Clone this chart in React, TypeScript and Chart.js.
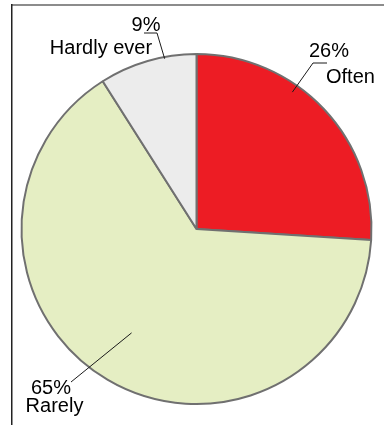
import React, { useEffect, useRef } from "react";
import { Chart, registerables } from "chart.js";

Chart.register(...registerables);

const categories = ["Often", "Rarely", "Hardly ever"];
const values = [26, 65, 9];
const percentLabels = ["26%", "65%", "9%"];
const sliceColors = ["#ED1C24", "#E5EEC3", "#ECECEC"];

// label layout relative to the pie centre (px), anchor = fraction along slice & radius fraction
const labelLayout = [
  {
    frac: 0.374, rf: 0.955,
    path: [[116.5, -166], [130.5, -166]],
    pct: { x: 132.5, y: -172, align: "center" },
    name: { x: 129.5, y: -146, align: "left" },
  },
  {
    frac: 0.506, rf: 0.7,
    path: [[-125.5, 153]],
    pct: { x: -145.5, y: 165, align: "center" },
    name: { x: -142, y: 183, align: "center" },
  },
  {
    frac: 0.673, rf: 0.99,
    path: [[-39.5, -196], [-52.5, -196]],
    pct: { x: -50.5, y: -198, align: "center" },
    name: { x: -95.5, y: -175, align: "center" },
  },
];

const framePlugin = {
  id: "frame",
  beforeDraw(chart: any) {
    const ctx = chart.ctx;
    ctx.save();
    ctx.strokeStyle = "#8c8c8c";
    ctx.lineWidth = 2;
    ctx.beginPath();
    ctx.moveTo(11, 5);
    ctx.lineTo(chart.width, 5);
    ctx.stroke();
    ctx.strokeStyle = "#222222";
    ctx.lineWidth = 1.5;
    ctx.beginPath();
    ctx.moveTo(11.75, 4);
    ctx.lineTo(11.75, chart.height);
    ctx.stroke();
    ctx.restore();
  },
};

const labelPlugin = {
  id: "sliceLabels",
  afterDraw(chart: any) {
    const ctx = chart.ctx;
    const meta = chart.getDatasetMeta(0);
    ctx.save();
    ctx.font = "20px 'Liberation Sans', Arial, sans-serif";
    ctx.fillStyle = "#000";
    ctx.strokeStyle = "#1a1a1a";
    ctx.lineWidth = 1;
    meta.data.forEach((arc: any, i: number) => {
      const p = arc.getProps(["x", "y", "startAngle", "endAngle", "outerRadius"], true);
      const L = labelLayout[i];
      const a = p.startAngle + (p.endAngle - p.startAngle) * L.frac;
      const ax = p.x + Math.cos(a) * p.outerRadius * L.rf;
      const ay = p.y + Math.sin(a) * p.outerRadius * L.rf;
      ctx.beginPath();
      ctx.moveTo(ax, ay);
      L.path.forEach(([dx, dy]) => ctx.lineTo(p.x + dx, p.y + dy));
      ctx.stroke();
      ctx.textBaseline = "alphabetic";
      ctx.textAlign = L.pct.align;
      ctx.fillText(percentLabels[i], p.x + L.pct.x, p.y + L.pct.y);
      ctx.textAlign = L.name.align;
      ctx.fillText(categories[i], p.x + L.name.x, p.y + L.name.y);
    });
    ctx.restore();
  },
};

export default function App() {
  const ref = useRef<HTMLCanvasElement>(null);
  useEffect(() => {
    if (!ref.current) return;
    const chart = new Chart(ref.current, {
      type: "pie",
      data: {
        labels: categories,
        datasets: [
          {
            data: values,
            backgroundColor: sliceColors,
            borderColor: "#707070",
            borderWidth: 2,
          },
        ],
      },
      options: {
        responsive: false,
        animation: false,
        layout: { padding: { left: 20.5, top: 53, right: 11.5, bottom: 20 } },
        plugins: { legend: { display: false }, tooltip: { enabled: false } },
      },
      plugins: [framePlugin, labelPlugin],
    });
    return () => chart.destroy();
  }, []);
  return (
    <div style={{ position: "absolute", left: 0, top: 0, width: 384, height: 425, background: "#fff" }}>
      <canvas ref={ref} width={384} height={425} style={{ display: "block" }} />
    </div>
  );
}
